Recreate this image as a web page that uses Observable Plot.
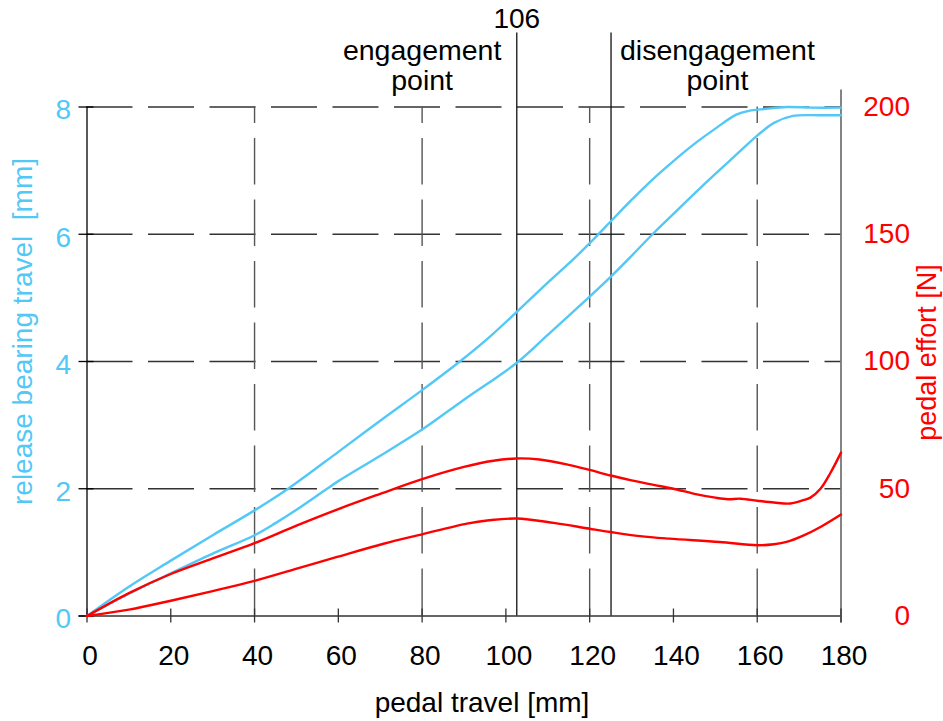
<!DOCTYPE html>
<html><head><meta charset="utf-8">
<script src="https://cdn.jsdelivr.net/npm/d3@7"></script>
<script src="https://cdn.jsdelivr.net/npm/@observablehq/plot@0.6"></script>
<style>
html,body{margin:0;padding:0;background:#fff;}
#chart{width:943px;height:721px;}
</style></head><body><div id="chart"></div>
<script>
// ---- data ----
const xTicks = [0, 20, 40, 60, 80, 100, 120, 140, 160, 180];
const leftTicks = [0, 2, 4, 6, 8];           // release bearing travel [mm]
const rightTicks = [0, 50, 100, 150, 200];   // pedal effort [N]
const effortPerMm = 25;                       // 200 N on the right axis = 8 mm on the left axis
const gridX = [40, 80, 120, 160];
const gridY = [2, 4, 6, 8];
const markerX = [102.6, 125.1];
const markerLabels = [{x: 102.6, text: "106"}];
const pointLabels = [{x: 80, text: "engagement\npoint"}, {x: 150.5, text: "disengagement\npoint"}];
const xTitle = "pedal travel [mm]";
const leftTitle = "release bearing travel  [mm]";
const rightTitle = "pedal effort [N]";

// release bearing travel [mm] vs pedal travel [mm]
const releaseUpper = [[0,0],[10,0.46],[20,0.87],[30,1.27],[40,1.66],[48,2.0],[60,2.58],[70,3.07],[80,3.55],[89,4.0],[96,4.38],[102.6,4.78],[110,5.24],[116,5.6],[120,5.86],[125,6.2],[130,6.54],[135,6.86],[140,7.15],[145,7.42],[150,7.66],[155,7.88],[158,7.94],[162,7.97],[167,8.0],[173,7.99],[180,7.99]];
const releaseLower = [[0,0],[10,0.35],[20,0.67],[30,0.98],[40,1.27],[45,1.46],[50,1.67],[57.3,2.0],[60,2.12],[70,2.52],[80,2.93],[90,3.4],[102.6,3.98],[110,4.42],[120,5.02],[125,5.33],[130,5.66],[135,6.0],[140,6.32],[145,6.64],[150,6.95],[155,7.25],[160,7.55],[164,7.75],[168.5,7.86],[175,7.87],[180,7.87]];
// pedal effort [N] vs pedal travel [mm]
const effortUpper = [[0,0],[10,9],[20,16.5],[30,22.6],[40,28.6],[50,35.5],[60,42],[70,48],[80,53.8],[90,58.6],[97,61],[102.5,61.9],[108,61.5],[115,59.4],[120,57.4],[125,55.2],[130,53.3],[135,51.6],[140,50],[145,48],[150,46.5],[153,45.9],[156,46.1],[160,45.3],[164,44.6],[167.9,44.2],[171,45.5],[172.7,46.5],[175.1,50],[177.4,56],[180,64.2]];
const effortLower = [[0,0],[10,2.5],[20,6],[30,9.8],[40,13.8],[50.9,19],[59.7,23.2],[70.8,28.4],[80,32.1],[90.7,36.3],[96,37.6],[102.6,38.3],[111.4,36.6],[120,34.3],[125,33],[132,31.4],[139,30.4],[151,29.1],[160,27.8],[164,28.2],[167,29.1],[171.1,31.7],[175.1,35],[180,39.9]];

const cyan = "#52C8F7";
const red = "#FF0000";
const font = "'Liberation Sans', Arial, Helvetica, sans-serif";

const plot = Plot.plot({
  width: 943, height: 721,
  marginLeft: 86.5, marginRight: 102.5, marginTop: 106.5, marginBottom: 105.5,
  x: {domain: [0, 180]},
  y: {domain: [0, 8]},
  style: {fontFamily: font, fontSize: "28px", background: "#fff", overflow: "visible", color: "#000"},
  marks: [
    // dashed grid
    Plot.ruleY(gridY, {y: d => d, stroke: "#333", strokeWidth: 1.3, strokeDasharray: "46,15.5"}),
    Plot.ruleX(gridX, {x: d => d, stroke: "#555", strokeWidth: 1.4, strokeDasharray: "46.5,15", strokeDashoffset: 30}),
    // frame lines
    Plot.ruleX([0], {x: d => d, stroke: "#000", strokeWidth: 1.3}),
    Plot.ruleY([0], {y: d => d, stroke: "#333", strokeWidth: 1.4, insetLeft: -8}),
    Plot.ruleX([180], {x: d => d, stroke: "#666", strokeWidth: 1.6, insetTop: -17, insetBottom: -7}),
    // ticks
    Plot.ruleX(xTicks, {x: d => d, y1: 0, y2: 0, insetTop: -7, insetBottom: -7, stroke: "#333", strokeWidth: 1.3}),
    Plot.ruleY(leftTicks, {y: d => d, x1: 0, x2: 0, insetLeft: -8, insetRight: -7, stroke: "#000", strokeWidth: 1.3}),
    // marker lines
    Plot.ruleX(markerX, {x: d => d, stroke: "#111", strokeWidth: 1.3, insetTop: -74}),
    // curves
    Plot.line(releaseUpper, {x: d => d[0], y: d => d[1], stroke: cyan, strokeWidth: 2.4, curve: "catmull-rom"}),
    Plot.line(releaseLower, {x: d => d[0], y: d => d[1], stroke: cyan, strokeWidth: 2.4, curve: "catmull-rom"}),
    Plot.line(effortUpper, {x: d => d[0], y: d => d[1] / effortPerMm, stroke: red, strokeWidth: 2.4, curve: "catmull-rom"}),
    Plot.line(effortLower, {x: d => d[0], y: d => d[1] / effortPerMm, stroke: red, strokeWidth: 2.4, curve: "catmull-rom"}),
    // axes
    Plot.axisX({ticks: xTicks, tickSize: 0, tickPadding: 29, dx: 3, fontSize: 28, label: null, tickFormat: d => String(d)}),
    Plot.axisY({ticks: leftTicks, tickSize: 0, tickPadding: 16, dy: 3.5, fontSize: 28, color: cyan, label: null, tickFormat: d => String(d)}),
    Plot.text(rightTicks, {y: d => d / effortPerMm, text: d => String(d), frameAnchor: "right", dx: 69, textAnchor: "end", fill: red, fontSize: 28}),
    // titles
    Plot.text([xTitle], {text: d => d, frameAnchor: "bottom", dx: 18, dy: 96, lineAnchor: "bottom", fontSize: 28, fill: "#000"}),
    Plot.text([leftTitle], {text: d => d, frameAnchor: "left", textAnchor: "middle", rotate: -90, dx: -64, dy: -30, fontSize: 28, fill: cyan}),
    Plot.text([rightTitle], {text: d => d, frameAnchor: "right", textAnchor: "middle", rotate: -90, dx: 86, dy: -9, fontSize: 27, fill: red}),
    // annotations
    Plot.text(markerLabels, {x: "x", text: "text", frameAnchor: "top", dy: -79, lineAnchor: "bottom", fontSize: 28, fill: "#000"}),
    Plot.text(pointLabels, {x: "x", text: "text", frameAnchor: "top", dy: -17, lineAnchor: "bottom", lineHeight: 1.05, fontSize: 28.5, fill: "#000"})
  ]
});
document.getElementById("chart").appendChild(plot);
</script></body></html>
